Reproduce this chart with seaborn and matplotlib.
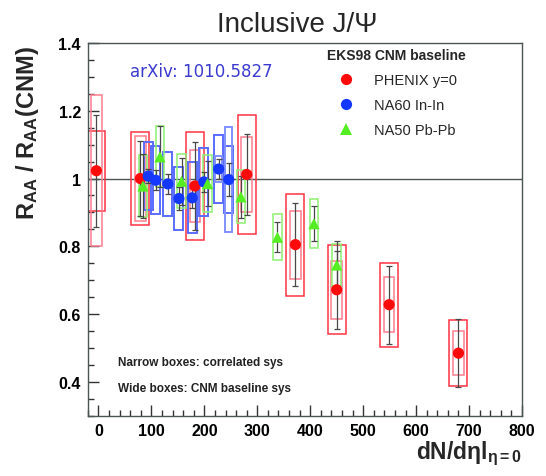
import numpy as np
import pandas as pd
import matplotlib
matplotlib.use("Agg")
import matplotlib.pyplot as plt
from matplotlib.patches import Rectangle
from matplotlib.ticker import MultipleLocator
import seaborn as sns

nan = np.nan

# PHENIX y=0
phenix_x = [-4, 79, 182, 280, 372, 450, 549, 680]
phenix_y = [1.023, 1.00, 0.978, 1.012, 0.805, 0.672, 0.628, 0.485]
phenix_stat = [0.165, 0.11, 0.13, 0.12, 0.123, 0.115, 0.115, 0.101]
phenix_corr = [0.223, 0.125, 0.106, 0.11, 0.10, 0.086, 0.081, 0.064]  # narrow boxes
phenix_cnm = [0.118, 0.138, 0.16, 0.176, 0.15, 0.131, 0.124, 0.097]   # wide boxes

# NA60 In-In
na60_x = [94, 108, 131, 152, 177, 199, 227, 246]
na60_y = [1.007, 0.995, 0.984, 0.941, 0.943, 0.99, 1.028, 0.997]
na60_stat = [0.02, 0.03, 0.03, 0.035, 0.03, 0.03, 0.03, 0.05]
na60_sys = [0.10, 0.10, 0.095, 0.093, 0.105, 0.10, 0.10, 0.10]
na60_sys2 = [nan, nan, nan, nan, nan, nan, 0.038, 0.155]

# NA50 Pb-Pb
na50_x = [84, 116, 157, 206, 269, 338, 407, 450]
na50_y = [0.978, 1.064, 0.992, 0.985, 0.946, 0.827, 0.867, 0.745]
na50_stat = [0.095, 0.09, 0.07, 0.067, 0.062, 0.045, 0.051, 0.07]
na50_sys = [0.09, 0.09, 0.08, 0.085, 0.078, 0.068, 0.072, 0.062]

labels = ["PHENIX y=0", "NA60 In-In", "NA50 Pb-Pb"]
colors = {"PHENIX y=0": "#ff0a0a", "NA60 In-In": "#1438ff", "NA50 Pb-Pb": "#55ee22"}
marks = {"PHENIX y=0": "o", "NA60 In-In": "o", "NA50 Pb-Pb": "^"}

df = pd.DataFrame({
    "x": phenix_x + na60_x + na50_x,
    "y": phenix_y + na60_y + na50_y,
    "exp": [labels[0]] * len(phenix_x) + [labels[1]] * len(na60_x) + [labels[2]] * len(na50_x),
})

sns.set_style("white")
plt.rcParams["font.family"] = ["Liberation Sans", "DejaVu Sans"]
plt.rcParams["mathtext.fontset"] = "custom"
plt.rcParams["mathtext.rm"] = "Liberation Sans"
plt.rcParams["mathtext.bf"] = "Liberation Sans:bold"
plt.rcParams["mathtext.it"] = "Liberation Sans:italic"
plt.rcParams["mathtext.default"] = "regular"

fig = plt.figure(figsize=(5.46, 4.77), dpi=100)
ax = fig.add_axes([0.161, 0.126, 0.795, 0.782])


def draw_boxes(xs, ys, halfh, halfw, color, lw):
    for x, y, h in zip(xs, ys, halfh):
        if np.isnan(h):
            continue
        ax.add_patch(Rectangle((x - halfw, y - h), 2 * halfw, 2 * h, fill=False,
                               ec=color, lw=lw, zorder=2))


# systematic boxes
draw_boxes(phenix_x, phenix_y, phenix_cnm, 17, "#ff3344", 1.1)
draw_boxes(phenix_x, phenix_y, phenix_corr, 10, "#ff7d90", 1.1)
draw_boxes(na60_x, na60_y, na60_sys, 8.5, "#5a6cff", 1.4)
draw_boxes(na60_x, na60_y, na60_sys2, 6.5, "#8090ff", 1.4)
draw_boxes(na50_x, na50_y, na50_sys, 8, "#8ef070", 1.1)

ax.axhline(1, color="#4a5555", lw=1, zorder=1)

# statistical errors
for xs, ys, es in [(phenix_x, phenix_y, phenix_stat), (na60_x, na60_y, na60_stat),
                   (na50_x, na50_y, na50_stat)]:
    ax.errorbar(xs, ys, yerr=es, fmt="none", ecolor="#484848", elinewidth=0.9,
                capsize=2, capthick=0.9, zorder=3)

sns.scatterplot(data=df, x="x", y="y", hue="exp", style="exp", palette=colors,
                markers=marks, s=65, edgecolor="none", linewidth=0, zorder=4, ax=ax)

ax.set_xlim(-20, 800)
ax.set_ylim(0.3, 1.4)
ax.xaxis.set_major_locator(MultipleLocator(100))
ax.xaxis.set_minor_locator(MultipleLocator(20))
ax.yaxis.set_major_locator(MultipleLocator(0.2))
ax.yaxis.set_minor_locator(MultipleLocator(0.05))
ax.yaxis.set_major_formatter(matplotlib.ticker.FuncFormatter(lambda v, p: f"{v:g}"))
ax.tick_params(which="both", direction="in", colors="#333333", bottom=True, left=True,
               top=False, right=False)
ax.tick_params(which="major", length=8, width=1, labelsize=11.5, pad=5)
ax.tick_params(which="minor", length=4, width=1)
for t in ax.get_xticklabels() + ax.get_yticklabels():
    t.set_fontweight("bold")
    t.set_color("black")
for s in ax.spines.values():
    s.set_color("#4a5555")
    s.set_linewidth(1)

ax.set_ylabel(r"R$_{AA}$ / R$_{AA}$(CNM)", fontsize=17, fontweight="bold")
ax.yaxis.set_label_coords(-0.108, 0.76)
ax.set_xlabel(r"dN/d$\eta$l$_{\eta=0}$", fontsize=16.5, fontweight="bold", ha="right")
ax.xaxis.set_label_coords(1.0, -0.062)

fig.text(297 / 546, 1 - 25 / 477, "Inclusive J/\u03a8", fontsize=20, ha="center", va="center")

ax.text(0.097, 0.925, "arXiv: 1010.5827", transform=ax.transAxes, fontsize=12,
        color="#3a3ad0", va="center", family=["DejaVu Sans"])
ax.text(0.069, 0.145, "Narrow boxes: correlated sys", transform=ax.transAxes,
        fontsize=8.5, fontweight="bold", color="#222222", va="center")
ax.text(0.069, 0.075, "Wide boxes: CNM baseline sys", transform=ax.transAxes,
        fontsize=8.5, fontweight="bold", color="#222222", va="center")

handles, labs = ax.get_legend_handles_labels()
leg = ax.legend(handles, labs, title="EKS98 CNM baseline", frameon=False,
                loc="upper left", bbox_to_anchor=(0.551, 0.985), alignment="left",
                title_fontproperties={"weight": "bold", "size": 10}, fontsize=10.5,
                handlelength=2.6, handletextpad=0.6, labelspacing=0.75,
                borderpad=0, borderaxespad=0)

fig.savefig("out.png", dpi=100)
